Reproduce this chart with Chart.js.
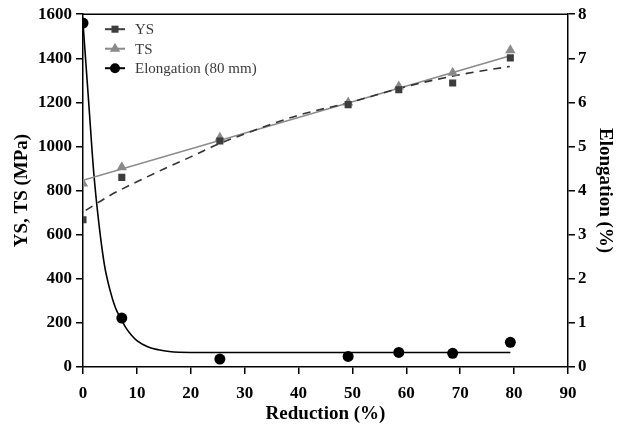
<!DOCTYPE html>
<html>
<head>
<meta charset="utf-8">
<script src="https://cdn.jsdelivr.net/npm/chart.js@4.4.1/dist/chart.umd.min.js"></script>
<style>
  html, body { margin: 0; padding: 0; background: #fff; }
  #wrap { width: 626px; height: 429px; }
</style>
</head>
<body>
<div id="wrap"><canvas id="chart" width="626" height="429"></canvas></div>
<script>
// measured points
const reduction = [0, 7.2, 25.4, 49.2, 58.6, 68.6, 79.3];
const ysValues = [668, 860, 1025, 1190, 1257, 1288, 1402];
const tsValues = [832, 906, 1040, 1200, 1272, 1335, 1437];
const elongValues = [7.8, 1.11, 0.18, 0.24, 0.33, 0.31, 0.56];

// fitted curves
const ysFitX = [0.5, 5, 10, 15, 20, 25, 30, 40, 50, 60, 70, 79.2];
const ysFitY = [710, 778, 840, 898, 953, 1010, 1057, 1142, 1203, 1272, 1326, 1363];
const tsFitX = [0, 79.3];
const tsFitY = [847, 1412];
const elongFitX = [0, 1, 2, 3, 4, 5, 6, 7, 8, 9, 10, 12, 14, 16, 20, 30, 40, 50, 60, 70, 79.3];
const elongFitY = [7.8, 6.1, 4.4, 3.2, 2.3, 1.75, 1.35, 1.1, 0.88, 0.72, 0.6, 0.46, 0.39, 0.35, 0.33, 0.33, 0.33, 0.33, 0.33, 0.33, 0.33];

// axis ticks
const xTicks = [0, 10, 20, 30, 40, 50, 60, 70, 80, 90];
const mpaTicks = [0, 200, 400, 600, 800, 1000, 1200, 1400, 1600];
const elongTicks = [0, 1, 2, 3, 4, 5, 6, 7, 8];

const SERIF = '"Liberation Serif", "Times New Roman", serif';
const pts = (xs, ys) => xs.map((x, i) => ({ x: x, y: ys[i] }));

const legendItems = [
  { text: 'YS', style: 'rect', color: '#3d3d3d', radius: 5 },
  { text: 'TS', style: 'triangle', color: '#8a8a8a', radius: 6 },
  { text: 'Elongation (80 mm)', style: 'circle', color: '#000', radius: 5 }
];

// top frame line + legend drawn inside the plot
const extras = {
  id: 'extras',
  afterDraw(chart) {
    const ctx = chart.ctx;
    const a = chart.chartArea;
    ctx.save();
    ctx.strokeStyle = '#000';
    ctx.lineWidth = 1.5;
    ctx.beginPath();
    ctx.moveTo(a.left, a.top);
    ctx.lineTo(a.right, a.top);
    ctx.stroke();

    let y = a.top + 15;
    legendItems.forEach(item => {
      ctx.strokeStyle = item.color;
      ctx.fillStyle = item.color;
      ctx.lineWidth = 2;
      ctx.beginPath();
      ctx.moveTo(a.left + 22, y);
      ctx.lineTo(a.left + 42, y);
      ctx.stroke();
      Chart.helpers.drawPoint(ctx, { pointStyle: item.style, radius: item.radius, rotation: 0, borderWidth: 0 }, a.left + 32, y);
      ctx.fillStyle = '#3a3a3a';
      ctx.font = '15px ' + SERIF;
      ctx.textBaseline = 'middle';
      ctx.textAlign = 'left';
      ctx.fillText(item.text, a.left + 52, y + 1);
      y += 19.5;
    });
    ctx.restore();
  }
};

const tickFont = { family: SERIF, size: 17, weight: 'bold' };
const titleFont = { family: SERIF, size: 19, weight: 'bold' };
const gridOpts = { drawOnChartArea: false, drawTicks: true, tickLength: 7, color: '#000', lineWidth: 1.5 };
const plain = v => String(v);

new Chart(document.getElementById('chart'), {
  type: 'scatter',
  data: {
    datasets: [
      { label: 'YS', data: pts(reduction, ysValues), pointStyle: 'rect', pointRadius: 5, pointBorderWidth: 0,
        backgroundColor: '#3d3d3d', borderColor: '#3d3d3d', yAxisID: 'y', clip: 0 },
      { label: 'TS', data: pts(reduction, tsValues), pointStyle: 'triangle', pointRadius: 6, pointBorderWidth: 0,
        backgroundColor: '#8a8a8a', borderColor: '#8a8a8a', yAxisID: 'y', clip: 0 },
      { label: 'Elongation (80 mm)', data: pts(reduction, elongValues), pointStyle: 'circle', pointRadius: 5.5, pointBorderWidth: 0,
        backgroundColor: '#000', borderColor: '#000', yAxisID: 'y2', clip: 0 },
      { label: 'YS fit', data: pts(ysFitX, ysFitY), showLine: true, pointRadius: 0,
        borderColor: '#333', borderWidth: 1.6, borderDash: [8, 6], cubicInterpolationMode: 'monotone',
        yAxisID: 'y', clip: 0 },
      { label: 'TS fit', data: pts(tsFitX, tsFitY), showLine: true, pointRadius: 0,
        borderColor: '#8a8a8a', borderWidth: 1.6, yAxisID: 'y', clip: 0 },
      { label: 'Elongation fit', data: pts(elongFitX, elongFitY), showLine: true, pointRadius: 0,
        borderColor: '#000', borderWidth: 1.6, cubicInterpolationMode: 'monotone', yAxisID: 'y2', clip: 0 }
    ]
  },
  options: {
    responsive: false,
    animation: false,
    layout: { padding: { top: 8, left: 0, right: 0, bottom: 0 } },
    plugins: { legend: { display: false }, tooltip: { enabled: false } },
    scales: {
      x: {
        type: 'linear', position: 'bottom', min: 0, max: 90,
        afterBuildTicks: s => { s.ticks = xTicks.map(v => ({ value: v })); },
        afterFit: s => { s.height = 62; },
        ticks: { font: tickFont, color: '#000', padding: 9, callback: plain },
        grid: gridOpts,
        border: { color: '#000', width: 1.5 },
        title: { display: true, text: 'Reduction (%)', font: titleFont, color: '#000', padding: { top: 0, bottom: 4 } }
      },
      y: {
        type: 'linear', position: 'left', min: 0, max: 1600,
        afterBuildTicks: s => { s.ticks = mpaTicks.map(v => ({ value: v })); },
        afterFit: s => { s.width = 83; },
        ticks: { font: tickFont, color: '#000', padding: 4, callback: plain },
        grid: gridOpts,
        border: { color: '#000', width: 1.5 },
        title: { display: true, text: 'YS, TS (MPa)', font: titleFont, color: '#000', padding: { top: 11, bottom: 0 } }
      },
      y2: {
        type: 'linear', position: 'right', min: 0, max: 8,
        afterBuildTicks: s => { s.ticks = elongTicks.map(v => ({ value: v })); },
        afterFit: s => { s.width = 58; },
        ticks: { font: tickFont, color: '#000', padding: 3, callback: plain },
        grid: gridOpts,
        border: { color: '#000', width: 1.5 },
        title: { display: true, text: 'Elongation (%)', font: titleFont, color: '#000', padding: { top: 10, bottom: 0 } }
      }
    }
  },
  plugins: [extras]
});
</script>
</body>
</html>
